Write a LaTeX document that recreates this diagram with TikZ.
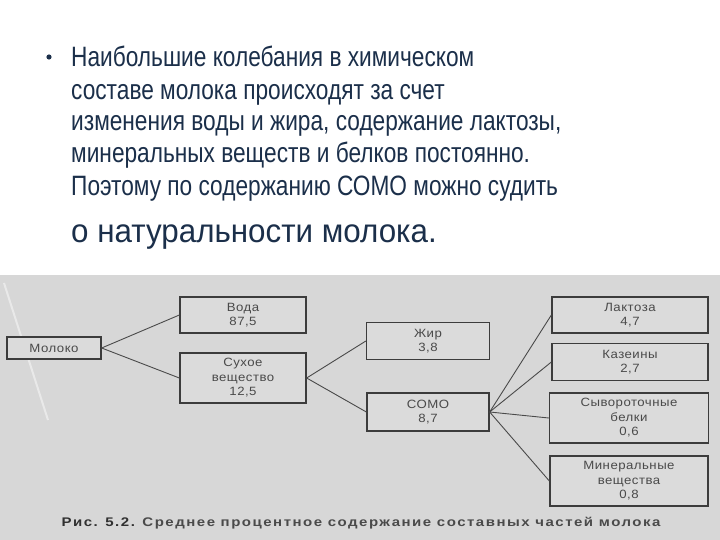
\documentclass[tikz,border=0pt]{standalone}
\usepackage{fontspec}
\setmainfont{Liberation Sans}
\newfontfamily\topfont[FakeStretch=0.81]{Liberation Sans}
\newfontfamily\lastfont[FakeStretch=0.95]{Liberation Sans}
\newfontfamily\boxfont[FakeStretch=1.1,LetterSpace=4]{Liberation Sans}
\newfontfamily\capfont[FakeStretch=1.2,LetterSpace=12]{Liberation Sans}
\definecolor{navy}{HTML}{1B2F4A}
\definecolor{scan}{HTML}{D7D7D7}
\definecolor{boxfill}{HTML}{DBDBDB}
\definecolor{ink}{HTML}{4A4A4A}
\definecolor{edge}{HTML}{3C3C3C}
\tikzset{
  topline/.style={anchor=base west, inner sep=0pt, text=navy, font=\topfont\fontsize{28}{32}\selectfont},
  compbox/.style={draw=edge, line width=1.3pt, fill=boxfill, text=ink, align=center,
    font=\boxfont\fontsize{12}{14.5}\selectfont, inner sep=0pt},
  link/.style={draw=ink, line width=0.9pt}
}
\begin{document}
\begin{tikzpicture}[x=1pt,y=-1pt]
\useasboundingbox (0,0) rectangle (720,540);
\fill[white] (0,0) rectangle (720,540);
\fill[scan] (0,275) rectangle (720,540);
\draw[white, opacity=0.45, line width=2pt] (4,283) -- (48,420);

% top text
\fill[navy] (49,57) circle (2.6);
\node[topline] (l1) at (71,67) {Наибольшие колебания в химическом};
\node[topline] (l2) at (71,100) {составе молока происходят за счет};
\node[topline] (l3) at (71,131) {изменения воды и жира, содержание лактозы,};
\node[topline] (l4) at (71,163) {минеральных веществ и белков постоянно.};
\node[topline] (l5) at (71,196) {Поэтому по содержанию СОМО можно судить};
\node[topline, font=\lastfont\fontsize{33}{36}\selectfont] (l6) at (71,242) {о натуральности молока.};

% diagram
\node[compbox, minimum width=94pt, minimum height=22pt] (milk) at (54,348) {Молоко};
\node[compbox, minimum width=126pt, minimum height=36pt] (voda) at (243,315) {Вода\\87,5};
\node[compbox, minimum width=126pt, minimum height=50pt] (suh) at (243,378) {Сухое\\вещество\\12,5};
\node[compbox, minimum width=123pt, minimum height=37pt] (zhir) at (428,341) {Жир\\3,8};
\node[compbox, minimum width=122pt, minimum height=38pt] (somo) at (428,412) {СОМО\\8,7};
\node[compbox, minimum width=156pt, minimum height=36pt] (lakt) at (630,315) {Лактоза\\4,7};
\node[compbox, minimum width=156pt, minimum height=37pt] (kaz) at (630,362) {Казеины\\2,7};
\node[compbox, minimum width=159pt, minimum height=50pt] (syv) at (629,418) {Сывороточные\\белки\\0,6};
\node[compbox, minimum width=158pt, minimum height=50pt] (mine) at (629,481) {Минеральные\\вещества\\0,8};

\path[link] (milk.east) -- (voda.west);
\path[link] (milk.east) -- (suh.west);
\path[link] (suh.east) -- (zhir.west);
\path[link] (suh.east) -- (somo.west);
\path[link] (somo.east) -- (lakt.west);
\path[link] (somo.east) -- (kaz.west);
\path[link] (somo.east) -- (syv.west);
\path[link] (somo.east) -- (mine.west);

\node[inner sep=0pt, text=ink, font=\capfont\bfseries\fontsize{12.5}{14}\selectfont] (cap) at (361,523)
  {{\color{edge!80!black}Рис. 5.2.} Среднее процентное содержание составных частей молока};
\end{tikzpicture}
\end{document}
